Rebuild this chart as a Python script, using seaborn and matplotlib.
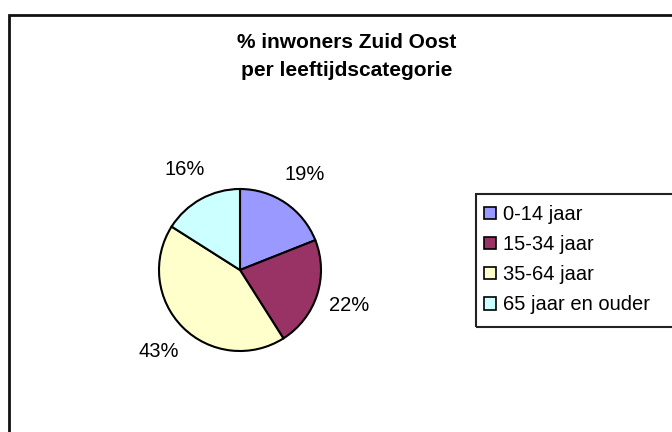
import matplotlib
matplotlib.use("Agg")
import matplotlib.pyplot as plt
from matplotlib.patches import Rectangle, Patch
import seaborn as sns

# data
categorieen = ["0-14 jaar", "15-34 jaar", "35-64 jaar", "65 jaar en ouder"]
percentages = [19, 22, 43, 16]
kleuren = ["#9999FF", "#993366", "#FFFFCC", "#CCFFFF"]
titel = "% inwoners Zuid Oost\nper leeftijdscategorie"

sns.set_theme(style="white")
plt.rcParams["font.family"] = ["Liberation Sans", "DejaVu Sans"]
plt.rcParams["text.color"] = "black"

W, H = 672, 432
fig = plt.figure(figsize=(W / 100, H / 100), dpi=100)
fig.patch.set_facecolor("white")

# outer chart frame (runs off the right and bottom edge)
fig.patches.append(Rectangle((9 / W, -0.05), 1.1, 1 - 15 / H + 0.05,
                             transform=fig.transFigure, fill=False,
                             edgecolor="#111111", linewidth=2))

# pie
cx, cy, r = 240, 270, 81
ax = fig.add_axes([(cx - r) / W, (H - cy - r) / H, 2 * r / W, 2 * r / H])
wedges, teksten, pct = ax.pie(percentages, colors=sns.color_palette(kleuren),
                              startangle=90, counterclock=False,
                              autopct="%1.0f%%", pctdistance=1.42,
                              wedgeprops=dict(edgecolor="black", linewidth=1.5))
for t in pct:
    t.set_fontsize(14.5)
    t.set_color("black")
ax.set_xlim(-1, 1)
ax.set_ylim(-1, 1)
ax.set_aspect("equal")

# title
fig.text(347 / W, 1 - 57 / H, titel, ha="center", va="center",
         fontsize=15, fontweight="bold", linespacing=1.6)

# legend
fig.patches.append(Rectangle((476 / W, 1 - 327 / H), 0.5, (327 - 194) / H,
                             transform=fig.transFigure, fill=False,
                             edgecolor="#222222", linewidth=1.5))
handles = [Patch(facecolor=c, edgecolor="black", linewidth=1.2) for c in kleuren]
fig.legend(handles, categorieen, loc="upper left",
           bbox_to_anchor=(478 / W, 1 - 199 / H), frameon=False,
           fontsize=14.5, handlelength=0.6, handleheight=0.6,
           handletextpad=0.35, labelspacing=0.55, borderaxespad=0,
           borderpad=0.3)

fig.savefig("out.png", dpi=100)
